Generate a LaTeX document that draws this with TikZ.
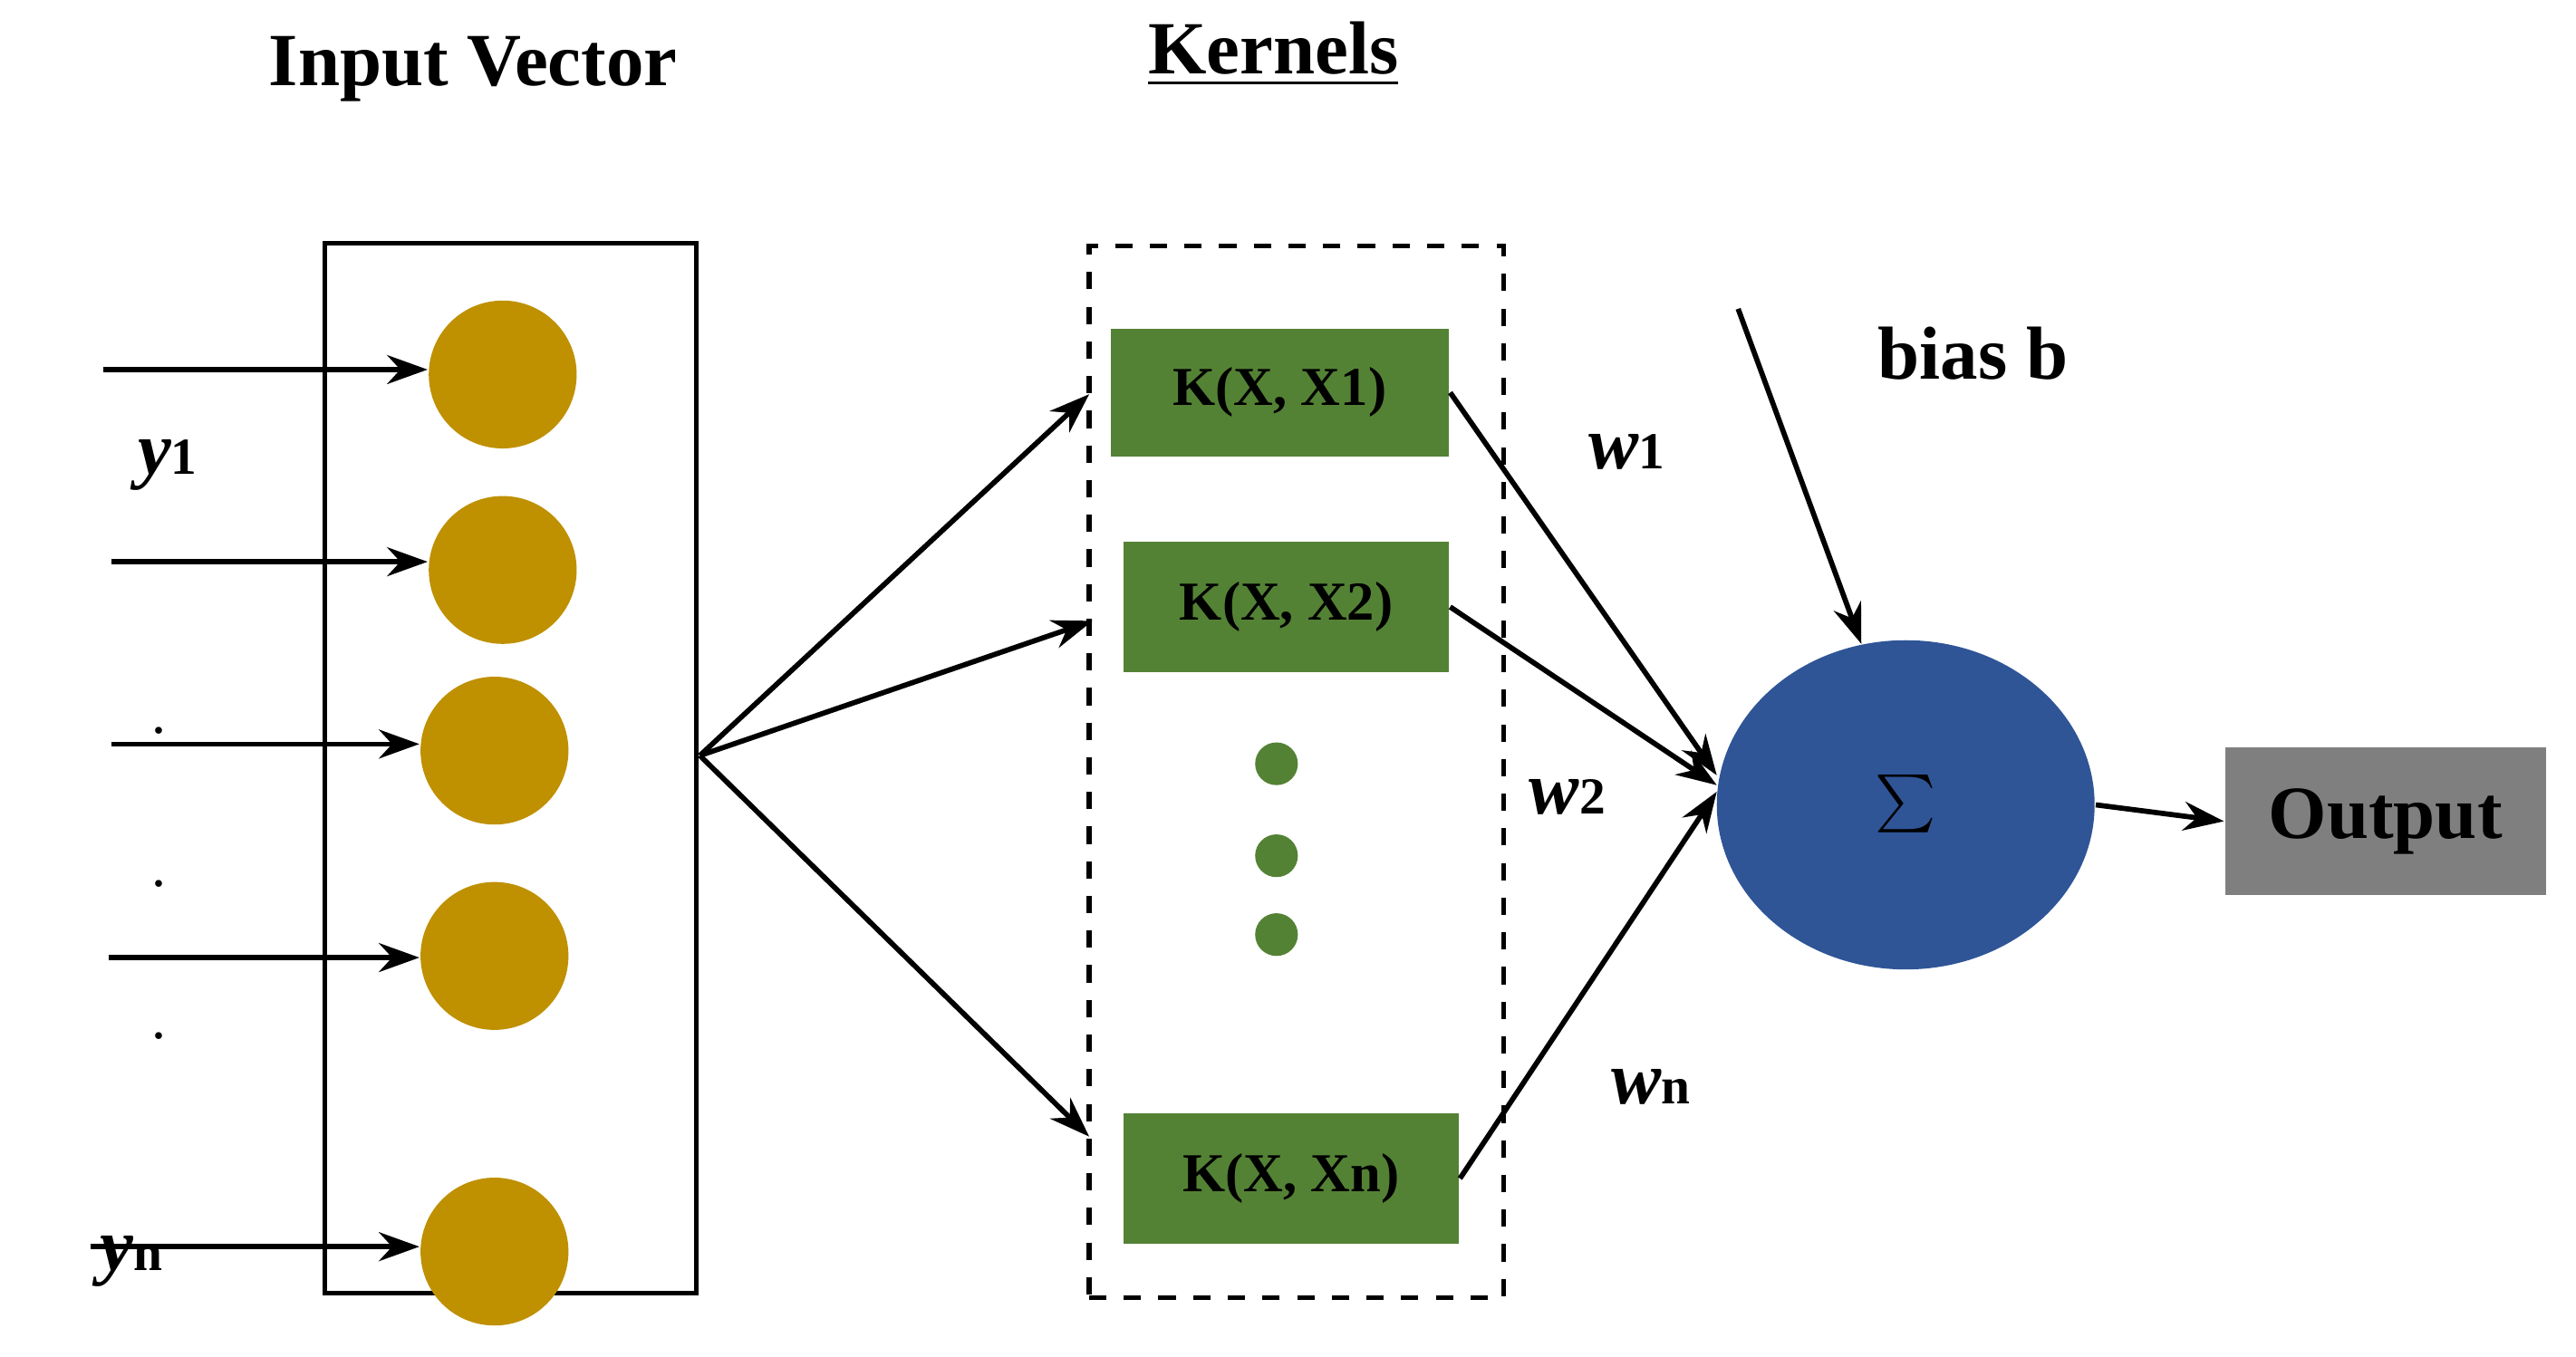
\documentclass[tikz,border=0pt]{standalone}
\usepackage{fontspec}
\setmainfont{Liberation Serif}
\usetikzlibrary{arrows.meta,shapes.geometric}
\begin{document}
\begin{tikzpicture}[x=0.01cm,y=-0.01cm,
  arr/.style={-{Stealth[length=7pt,width=5pt]},line width=0.9pt},
  inc/.style={circle,fill=gold,minimum size=25.6pt,inner sep=0},
  ker/.style={fill=kgreen,font=\bfseries\fontsize{9.5}{11}\selectfont,inner sep=0},
  gd/.style={circle,fill=kgreen,minimum size=7.4pt,inner sep=0},
  lbl/.style={font=\bfseries\fontsize{13}{15}\selectfont}]
\definecolor{gold}{HTML}{BF9000}
\definecolor{kgreen}{HTML}{548235}
\definecolor{sblue}{HTML}{2F5597}
\definecolor{ogray}{HTML}{7F7F7F}
\useasboundingbox (0,0) rectangle (1568,826);
\node[lbl] (t1) at (288,42) {Input Vector};
\node[lbl] (t2) at (775,33) {\underline{Kernels}};
\node[draw,line width=0.8pt,minimum width=64.3pt,minimum height=181.8pt,inner sep=0] (ibox) at (311,467.5) {};
\node[inc] (c1) at (306,228) {};
\node[inc] (c2) at (306,347) {};
\node[inc] (c3) at (301,457) {};
\node[inc] (c4) at (301,582) {};
\node[inc] (c5) at (301,762) {};
\coordinate (s1) at (63,225); \coordinate (s2) at (68,342); \coordinate (s3) at (68,453);
\coordinate (s4) at (66,583); \coordinate (s5) at (55,759);
\draw[arr] (s1) -- (c1.west|-s1);
\draw[arr] (s2) -- (c2.west|-s2);
\draw[arr] (s3) -- (c3.west|-s3);
\draw[arr] (s4) -- (c4.west|-s4);
\draw[arr] (s5) -- (c5.west|-s5);
\node[lbl] (y1) at (102,283) {\itshape y\upshape\fontsize{9}{10}\selectfont 1};
\node[lbl] (yn) at (80,768) {\itshape y\upshape\fontsize{9}{10}\selectfont n};
\node (d1) at (97,445) {.}; \node (d2) at (97,538) {.}; \node (d3) at (97,631) {.};
\node[draw,dashed,line width=0.8pt,minimum width=71.7pt,minimum height=182.1pt,inner sep=0] (kbox) at (789,470) {};
\node[ker,minimum width=58.6pt,minimum height=22.2pt] (k1) at (779,239) {K(X, X1)};
\node[ker,minimum width=56.3pt,minimum height=22.5pt] (k2) at (783,369.5) {K(X, X2)};
\node[ker,minimum width=58pt,minimum height=22.5pt] (kn) at (786,717.5) {K(X, Xn)};
\node[gd] (g1) at (777,465) {}; \node[gd] (g2) at (777,521) {}; \node[gd] (g3) at (777,569) {};
\coordinate (hub) at (426,460);
\coordinate (e1) at (663,240); \coordinate (e2) at (665,378); \coordinate (e3) at (663,692);
\draw[arr] (hub) -- (e1); \draw[arr] (hub) -- (e2); \draw[arr] (hub) -- (e3);
\node[ellipse,fill=sblue,minimum width=65.4pt,minimum height=57pt,inner sep=0,font=\fontsize{22}{24}\selectfont] (sig) at (1160,490) {$\sum$};
\coordinate (a1) at (1045,472); \coordinate (a2) at (1045,478); \coordinate (a3) at (1045,482);
\draw[arr] (k1.east) -- (a1);
\draw[arr] (k2.east) -- (a2);
\draw[arr] (kn.east) -- (a3);
\coordinate (b0) at (1058,188);
\draw[arr] (b0) -- (1133,392);
\node[lbl] (bias) at (1201,215) {bias b};
\node[lbl] (w1) at (990,275) {\itshape w\upshape\fontsize{9}{10}\selectfont 1};
\node[lbl] (w2) at (954,485) {\itshape w\upshape\fontsize{9}{10}\selectfont 2};
\node[lbl] (wn) at (1005,662) {\itshape w\upshape\fontsize{9}{10}\selectfont n};
\node[fill=ogray,minimum width=55.5pt,minimum height=25.6pt,inner sep=0,font=\bfseries\fontsize{13}{15}\selectfont] (out) at (1452,500) {Output};
\draw[arr] (sig.east) -- (out.west);
\end{tikzpicture}
\end{document}
